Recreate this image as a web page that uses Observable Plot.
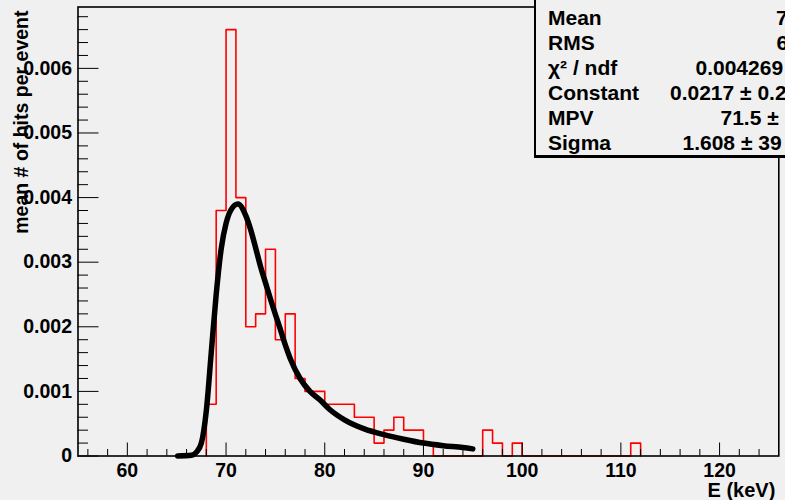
<!DOCTYPE html>
<html><head><meta charset="utf-8">
<script src="https://cdn.jsdelivr.net/npm/d3@7"></script>
<script src="https://cdn.jsdelivr.net/npm/@observablehq/plot@0.6"></script>
<style>
html,body{margin:0;padding:0;background:#f0f0f0;}
#wrap{position:relative;width:785px;height:500px;overflow:hidden;font-family:"Liberation Sans",Arial,sans-serif;font-weight:bold;color:#000;}
#stats{position:absolute;left:534px;top:-30px;width:330px;height:188px;box-sizing:border-box;background:#f0f0f0;border:1px solid #000;border-left-width:2px;border-bottom-width:3px;}
.row{position:absolute;font-size:21px;line-height:21px;white-space:nowrap;transform:translateY(-50%);}
</style></head>
<body><div id="wrap"><div id="chart"></div><div id="stats"></div></div>
<script>
// ---- histogram (bin lower edge in keV, content) ----
const binLeft   = [68, 69, 70, 71, 72, 73, 74, 75, 76, 77, 78, 79, 80, 81, 82, 83, 84, 85, 86, 87, 88, 89, 90, 96, 97, 99, 111];
const binHeight = [0.0008, 0.0038, 0.0066, 0.0040, 0.0020, 0.0022, 0.0032, 0.0018, 0.0022, 0.0012, 0.0010, 0.0010,
                   0.0008, 0.0008, 0.0008, 0.0006, 0.0006, 0.0002, 0.0004, 0.0006, 0.0004, 0.0004, 0.0002,
                   0.0004, 0.0002, 0.0002, 0.0002];
const binWidth = 1;

// ---- Landau fit curve ----
const fitX = [65.1, 66.5, 67.0, 67.5, 68.0, 68.5, 69.0, 69.5, 70.0, 70.5, 71.2, 72.0, 72.5, 73.0, 73.5, 74.0, 74.5,
              75.0, 75.5, 76.0, 76.5, 77.5, 78.5, 79.5, 80.5, 82.0, 84.0, 86.0, 88.0, 90.0, 92.0, 94.0, 95.0];
const fitY = [0, 0.00001, 0.00006, 0.0002, 0.0007, 0.0016, 0.0025, 0.0032, 0.0036, 0.00381, 0.0039, 0.00372, 0.0035,
              0.00322, 0.00293, 0.00268, 0.00243, 0.00219, 0.00196, 0.00172, 0.00151, 0.0012, 0.001, 0.00087, 0.00072,
              0.00056, 0.00042, 0.00033, 0.00026, 0.0002, 0.00016, 0.00013, 0.00011];

// ---- axes ----
const xDomain = [55, 126];
const yDomain = [0, 0.00695];
const xMajor = [60, 70, 80, 90, 100, 110, 120];
const xMinor = [56, 58, 62, 64, 66, 68, 72, 74, 76, 78, 82, 84, 86, 88, 92, 94, 96, 98, 102, 104, 106, 108, 112, 114, 116, 118, 122, 124];
const yMajor = [0, 0.001, 0.002, 0.003, 0.004, 0.005, 0.006];
const yMinor = [0.0002, 0.0004, 0.0006, 0.0008, 0.0012, 0.0014, 0.0016, 0.0018, 0.0022, 0.0024, 0.0026, 0.0028,
                0.0032, 0.0034, 0.0036, 0.0038, 0.0042, 0.0044, 0.0046, 0.0048, 0.0052, 0.0054, 0.0056, 0.0058,
                0.0062, 0.0064, 0.0066, 0.0068];
const xTitle = "E (keV)";
const yTitle = "mean # of hits per event";

// ---- stats box ----
const statLabels = ["Entries", "Mean", "RMS", "χ² / ndf", "Constant", "MPV", "Sigma"];
const statValues = ["", "7", "6", "0.004269", "0.0217 ± 0.2", "71.5 ±", "1.608 ± 39"];

// build the step outline
const contents = new Map(binLeft.map((b, i) => [b, binHeight[i]]));
const first = binLeft[0], last = binLeft[binLeft.length - 1];
const histPts = [{x: first, y: 0}];
for (let b = first; b <= last; b += binWidth) histPts.push({x: b, y: contents.get(b) ?? 0});
histPts.push({x: last + binWidth, y: 0});
const fitPts = fitX.map((x, i) => ({x, y: fitY[i]}));

const chart = Plot.plot({
  width: 785, height: 500,
  marginLeft: 77.5, marginRight: 6.7, marginTop: 6.5, marginBottom: 44.5,
  style: "background:#f0f0f0;font-family:'Liberation Sans',Arial,sans-serif;font-weight:bold;font-size:19.5px;color:#000;",
  x: {domain: xDomain, label: null},
  y: {domain: yDomain, label: null},
  marks: [
    Plot.line(histPts, {x: "x", y: "y", stroke: "#ff0000", strokeWidth: 1.6, curve: "step-after"}),
    Plot.line(fitPts, {x: "x", y: "y", stroke: "#000", strokeWidth: 5.5, curve: "monotone-x", strokeLinejoin: "round"}),
    Plot.frame({stroke: "#000", strokeWidth: 1.6}),
    Plot.axisX(xMinor, {tickSize: -6.5, fill: "none", label: null}),
    Plot.axisX(xMajor, {tickSize: -13, fill: "none", label: null}),
    Plot.axisX(xMajor, {tickSize: 0, tickPadding: 7, label: null, fontSize: 19.5}),
    Plot.axisY(yMinor, {tickSize: -10.5, fill: "none", label: null}),
    Plot.axisY(yMajor, {tickSize: -21, fill: "none", label: null}),
    Plot.axisY(yMajor, {tickSize: 0, tickPadding: 6, label: null, fontSize: 19.5,
                        tickFormat: d => d === 0 ? "0" : d.toFixed(3)}),
    Plot.text([yTitle], {frameAnchor: "top-left", text: d => d, rotate: -90, textAnchor: "end",
                         lineAnchor: "middle", dx: -56, dy: 3.5, fontSize: 19.5}),
    Plot.text([xTitle], {frameAnchor: "bottom-right", text: d => d, textAnchor: "end",
                         lineAnchor: "middle", dx: -3.5, dy: 34.5, fontSize: 20})
  ]
});
document.getElementById("chart").appendChild(chart);

// stats rows (layout)
const wrap = document.getElementById("wrap");
const rowY0 = -7.9, rowStep = 24.94, labelX = 548;
const valueX = [776, 776, 776.5, 695.5, 670, 720.5, 682.5];
statLabels.forEach((lab, i) => {
  const l = document.createElement("div");
  l.className = "row"; l.textContent = lab;
  l.style.left = labelX + "px"; l.style.top = (rowY0 + i * rowStep) + "px";
  wrap.appendChild(l);
  if (statValues[i]) {
    const v = document.createElement("div");
    v.className = "row"; v.textContent = statValues[i];
    v.style.left = valueX[i] + "px"; v.style.top = (rowY0 + i * rowStep) + "px";
    wrap.appendChild(v);
  }
});
</script></body></html>
